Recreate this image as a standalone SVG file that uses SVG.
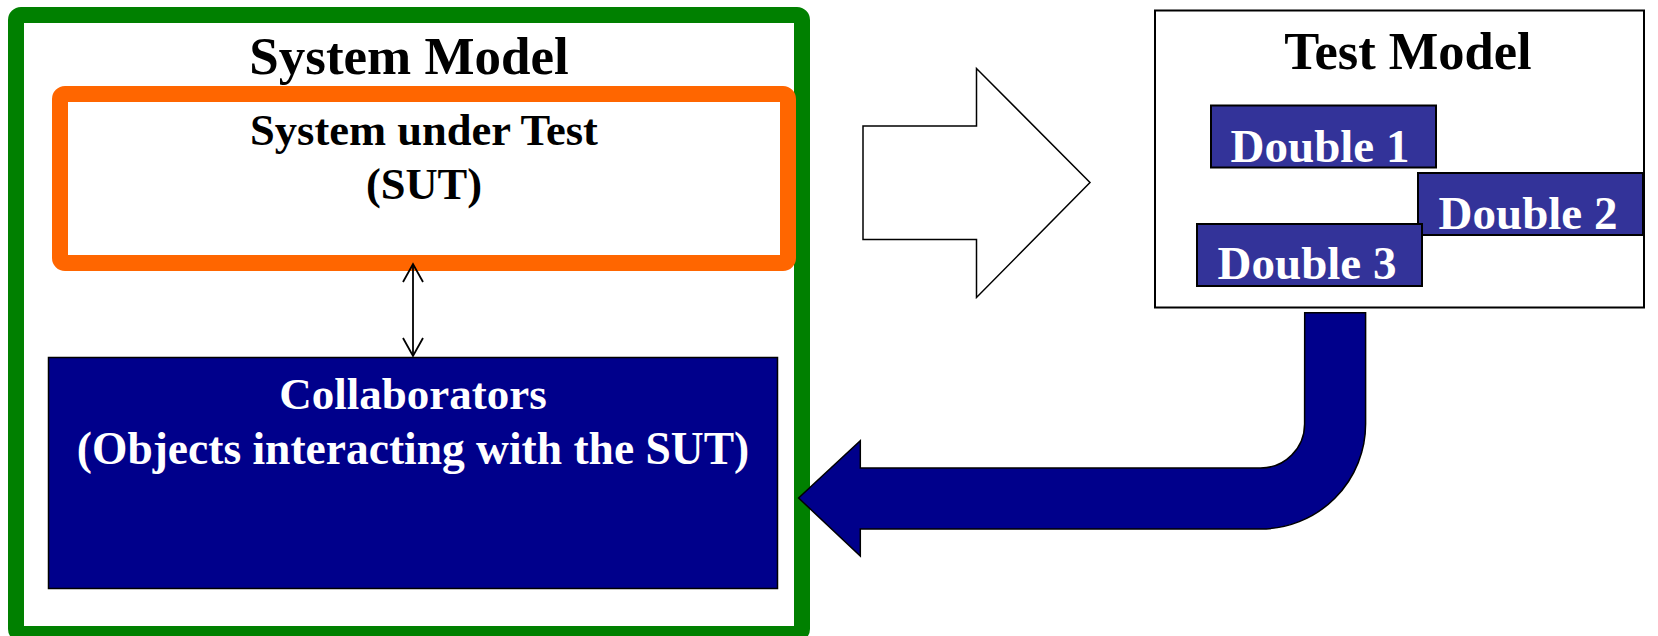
<svg xmlns="http://www.w3.org/2000/svg" width="1658" height="636" viewBox="0 0 1658 636">
<style>
text{font-family:"Liberation Serif","Times New Roman",serif;font-weight:bold;text-anchor:middle}
.blk{fill:#000}
.wht{fill:#fff}
.dbl{fill:#333399;stroke:#000;stroke-width:2}
</style>
<rect width="1658" height="636" fill="#fff"/>
<g id="system-model">
<rect x="16" y="15" width="786" height="619" rx="5" fill="#fff" stroke="#008000" stroke-width="16"/>
<text class="blk" x="409" y="74" font-size="53">System Model</text>
</g>
<g id="sut">
<rect x="60" y="94" width="728" height="169" rx="5" fill="#fff" stroke="#FF6600" stroke-width="16"/>
<text class="blk" x="424" y="145" font-size="44.5">System under Test</text>
<text class="blk" x="424" y="199" font-size="44.5">(SUT)</text>
</g>
<g id="collaborators">
<rect x="48.5" y="357.5" width="729" height="231" fill="#00008B" stroke="#000" stroke-width="1.5"/>
<text class="wht" x="413" y="409" font-size="45">Collaborators</text>
<text class="wht" x="413" y="464" font-size="45.5">(Objects interacting with the SUT)</text>
</g>
<g id="test-model">
<rect x="1155" y="10.5" width="489" height="297" fill="#fff" stroke="#000" stroke-width="2"/>
<text class="blk" x="1408" y="69" font-size="52.5">Test Model</text>
</g>
<g id="double1">
<rect class="dbl" x="1211" y="105.5" width="225" height="62"/>
<text class="wht" x="1320" y="161.5" font-size="47">Double 1</text>
</g>
<g id="double2">
<rect class="dbl" x="1418" y="173" width="225" height="62"/>
<text class="wht" x="1528" y="228.5" font-size="47">Double 2</text>
</g>
<g id="double3">
<rect class="dbl" x="1197" y="224" width="225" height="62"/>
<text class="wht" x="1307" y="278.5" font-size="47">Double 3</text>
</g>
<g id="connectors">
<g fill="none" stroke="#000" stroke-width="1.8">
<line x1="413" y1="264" x2="413" y2="356"/>
<polyline points="403,282 413,264 423,282"/>
<polyline points="403,338 413,356 423,338"/>
</g>
<path d="M863,126 L976.5,126 L976.5,68.5 L1090,182.5 L976.5,297.5 L976.5,239.5 L863,239.5 Z" fill="#fff" stroke="#000" stroke-width="1.5"/>
<path d="M1304.7,312.7 L1365.6,312.7 L1365.6,424 A105,105 0 0 1 1260.6,529 L860.3,529 L860.3,556 L798.6,498 L860.3,440.7 L860.3,468 L1260.6,468 A44,44 0 0 0 1304.6,424 Z" fill="#00008B" stroke="#000" stroke-width="1.5"/>
</g>
</svg>
